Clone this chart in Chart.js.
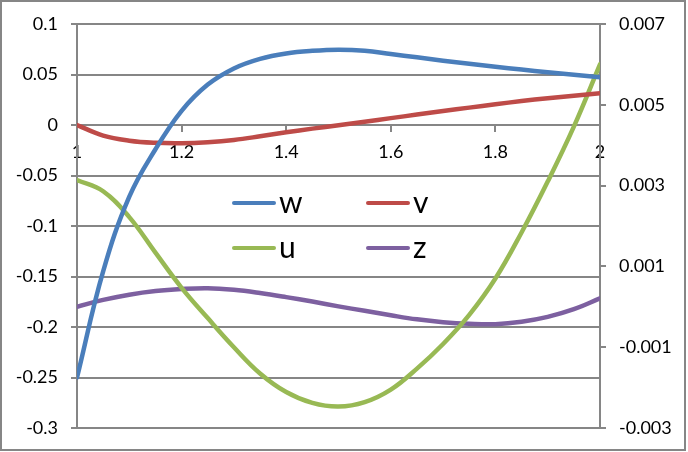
<!DOCTYPE html>
<html><head><meta charset="utf-8">
<script src="https://cdn.jsdelivr.net/npm/chart.js@4/dist/chart.umd.min.js"></script>
<style>
html,body{margin:0;padding:0;background:#fff;}
#wrap{position:relative;width:688px;height:452px;overflow:hidden;}
#c{position:absolute;left:0;top:0;}
#legend{position:absolute;left:232px;top:188px;display:grid;grid-template-columns:134px 134px;row-gap:15px;font-family:Lato,sans-serif;font-size:30px;color:#000;}
.li{display:flex;align-items:center;height:30px;}
.ln{display:inline-block;width:44px;height:4.5px;border-radius:2.25px;margin-right:3px;}
.tx{position:relative;top:-2px;line-height:30px;}
</style></head><body>
<div id="wrap"><canvas id="c" width="688" height="452"></canvas><div id="legend"></div></div>
<script>
// ---- data ----
const xValues = [1, 1.05, 1.1, 1.15, 1.2, 1.25, 1.3, 1.35, 1.4, 1.45, 1.5, 1.55, 1.6, 1.65, 1.7, 1.75, 1.8, 1.85, 1.9, 1.95, 2];
const wValues = [-0.250, -0.145, -0.071, -0.024, 0.014, 0.040, 0.056, 0.0655, 0.0708, 0.0734, 0.0745, 0.0735, 0.0703, 0.0670, 0.0637, 0.0606, 0.0577, 0.0549, 0.0522, 0.0497, 0.0473];
const vValues = [0, -0.0105, -0.0155, -0.0176, -0.018, -0.0170, -0.0148, -0.0112, -0.0072, -0.0036, -0.0002, 0.0033, 0.0068, 0.0103, 0.0138, 0.0172, 0.0205, 0.0237, 0.0265, 0.0290, 0.0314];
const uValues = [0.00314, 0.00286, 0.00222, 0.00134, 0.00047, -0.00028, -0.00100, -0.00165, -0.00211, -0.00238, -0.00247, -0.00236, -0.00205, -0.00153, -0.00092, -0.00020, 0.00070, 0.00184, 0.00310, 0.00446, 0.00600];
const zValues = [0.0000, 0.00017, 0.00030, 0.00039, 0.00044, 0.00046, 0.00042, 0.00034, 0.00024, 0.00013, 0.00001, -0.00010, -0.00021, -0.00031, -0.00038, -0.00042, -0.00043, -0.00037, -0.00025, -0.00006, 0.00021];
const seriesNames = ['w', 'v', 'u', 'z'];
const xTicks = [1, 1.2, 1.4, 1.6, 1.8, 2];
const leftTicks = [-0.3, -0.25, -0.2, -0.15, -0.1, -0.05, 0, 0.05, 0.1];
const rightTicks = [-0.003, -0.001, 0.001, 0.003, 0.005, 0.007];

// ---- styling ----
const GRAY = '#868686';
const COLORS = ['#4A7EBB', '#BE4B48', '#98B954', '#7D60A0'];
const FONT = 'Lato';

const pts = ys => xValues.map((x, i) => ({x: x, y: ys[i]}));
const seriesData = [wValues, vValues, uValues, zValues];
const axisIds = ['y', 'y', 'y1', 'y1'];

const datasets = seriesNames.map((name, i) => ({
  label: name,
  data: pts(seriesData[i]),
  yAxisID: axisIds[i],
  borderColor: COLORS[i],
  backgroundColor: COLORS[i],
  borderWidth: 4.5,
  borderCapStyle: 'round',
  borderJoinStyle: 'round',
  pointRadius: 0,
  fill: false,
  tension: 0.4
}));

const frame = {
  id: 'frame',
  beforeDraw(chart) {
    const c = chart.ctx;
    c.save();
    c.fillStyle = '#fff';
    c.fillRect(0, 0, chart.width, chart.height);
    c.strokeStyle = GRAY;
    c.lineWidth = 2;
    c.strokeRect(1, 1, 684, 449);
    c.restore();
  }
};

const htmlLegend = {
  id: 'htmlLegend',
  afterUpdate(chart) {
    const box = document.getElementById('legend');
    box.innerHTML = '';
    chart.data.datasets.forEach(ds => {
      const item = document.createElement('div');
      item.className = 'li';
      const ln = document.createElement('span');
      ln.className = 'ln';
      ln.style.background = ds.borderColor;
      const tx = document.createElement('span');
      tx.className = 'tx';
      tx.textContent = ds.label;
      item.appendChild(ln);
      item.appendChild(tx);
      box.appendChild(item);
    });
  }
};

const tickFont = {family: FONT, size: 18};

new Chart(document.getElementById('c'), {
  type: 'line',
  data: {datasets: datasets},
  options: {
    responsive: false,
    animation: false,
    layout: {padding: {top: 24, bottom: 24, left: 0, right: 0}},
    plugins: {legend: {display: false}, tooltip: {enabled: false}},
    scales: {
      x: {
        type: 'linear',
        position: {y: 0},
        min: 1, max: 2,
        afterBuildTicks: s => { s.ticks = xTicks.map(v => ({value: v})); },
        afterFit: s => { s.height = 0; },
        grid: {drawOnChartArea: false, drawTicks: true, tickLength: 6, color: GRAY, lineWidth: 2},
        border: {display: true, color: GRAY, width: 2},
        ticks: {font: tickFont, color: '#000', padding: 10, maxRotation: 0, autoSkip: false, callback: v => String(v)}
      },
      y: {
        type: 'linear',
        position: 'left',
        min: -0.3, max: 0.1,
        afterBuildTicks: s => { s.ticks = leftTicks.map(v => ({value: v})); },
        afterFit: s => { s.width = 77; },
        grid: {color: GRAY, lineWidth: 2, tickLength: 6, drawTicks: true},
        border: {display: true, color: GRAY, width: 2},
        ticks: {font: tickFont, color: '#000', padding: 13, callback: v => String(v)}
      },
      y1: {
        type: 'linear',
        position: 'right',
        min: -0.003, max: 0.007,
        afterBuildTicks: s => { s.ticks = rightTicks.map(v => ({value: v})); },
        afterFit: s => { s.width = 88; },
        grid: {drawOnChartArea: false, color: GRAY, lineWidth: 2, tickLength: 6, drawTicks: true},
        border: {display: true, color: GRAY, width: 2},
        ticks: {font: tickFont, color: '#000', padding: 13, callback: v => String(v)}
      }
    }
  },
  plugins: [frame, htmlLegend]
});
</script>
</body></html>
